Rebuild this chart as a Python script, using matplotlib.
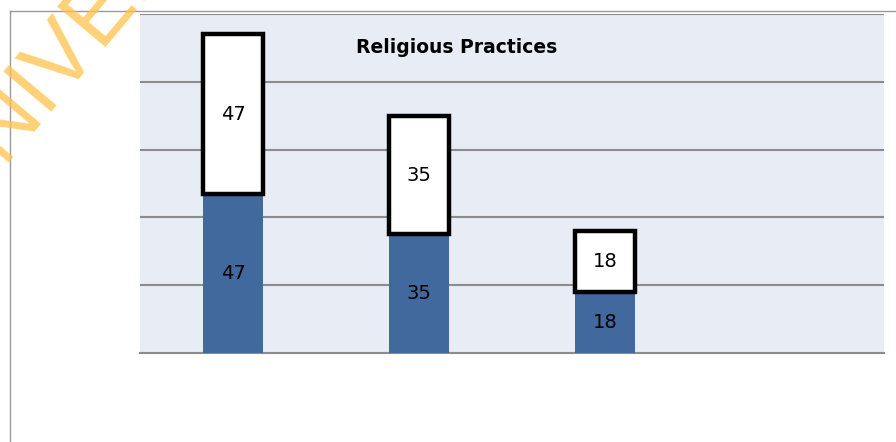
import matplotlib.pyplot as plt
import numpy as np

categories = ["A", "B", "C", ""]
blue_vals = [47, 35, 18]
white_vals = [47, 35, 18]
title = "Religious Practices"

fig = plt.figure(figsize=(8.96, 4.42), dpi=100)

# outer chart frame (left and top edges visible)
fig.add_artist(plt.Line2D([10/896, 10/896], [0, 1 - 11/442], color="#9a9a9a", lw=1))
fig.add_artist(plt.Line2D([10/896, 1], [1 - 11/442, 1 - 11/442], color="#9a9a9a", lw=1))

ax = fig.add_axes([140/896, 89/442, 744/896, 339/442])
ax.set_facecolor("#E8ECF4")

x = np.arange(len(blue_vals))
w = 0.32
ax.bar(x, blue_vals, width=w, color="#41699E", zorder=3)
ax.bar(x, white_vals, width=w, bottom=blue_vals, color="white",
       edgecolor="black", linewidth=3.2, zorder=3)

for xi, b, t in zip(x, blue_vals, white_vals):
    ax.text(xi, b / 2, str(b), ha="center", va="center", fontsize=14, zorder=4)
    ax.text(xi, b + t / 2, str(t), ha="center", va="center", fontsize=14, zorder=4)

ax.set_xlim(-0.5, len(categories) - 0.5)
ax.set_ylim(0, 100)
ax.set_yticks([20, 40, 60, 80, 100])
ax.yaxis.grid(True, color="#8c8c8c", lw=1.5, zorder=1)
ax.tick_params(left=False, bottom=False, labelleft=False, labelbottom=False)
for s in ["left", "right", "top"]:
    ax.spines[s].set_visible(False)
ax.spines["bottom"].set_color("#8c8c8c")
ax.spines["bottom"].set_linewidth(1.5)

ax.text(1.2, 90, title, ha="center", va="center", fontsize=13.5,
        fontweight="bold", zorder=4)

# watermark fragment, mostly off the page
fig.text(-40/896, 1 - 212/442, "UNIVERSITY", rotation=50, rotation_mode="anchor",
         fontsize=65, family="Liberation Sans", color="#FFC24A", alpha=0.75,
         ha="left", va="baseline", zorder=10)

fig.savefig("out.png", dpi=100)
